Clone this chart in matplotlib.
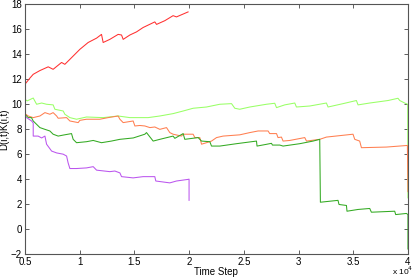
import matplotlib.pyplot as plt
import numpy as np

plt.rcParams['font.family'] = ['Liberation Sans', 'DejaVu Sans']

# time step in units of 1e4
red_x = [0.5, 0.546, 0.576, 0.637, 0.713, 0.758, 0.835, 0.865, 0.911, 1.002, 1.078, 1.155, 1.2, 1.215,
         1.276, 1.352, 1.383, 1.398, 1.459, 1.52, 1.58, 1.687, 1.703, 1.779, 1.854, 1.885, 1.991]
red_y = [11.6, 12.1, 12.4, 12.7, 13.0, 12.8, 13.35, 13.2, 13.6, 14.4, 14.95, 15.3, 15.6, 14.95,
         15.2, 15.6, 15.55, 15.2, 15.55, 15.8, 16.15, 16.6, 16.4, 16.7, 17.1, 17.0, 17.4]

purple_x = [0.5, 0.521, 0.561, 0.576, 0.576, 0.621, 0.653, 0.683, 0.698, 0.744, 0.79, 0.85, 0.881,
            0.895, 0.911, 0.972, 1.063, 1.124, 1.155, 1.276, 1.322, 1.368, 1.383, 1.489, 1.58,
            1.687, 1.696, 1.824, 1.885, 1.991, 2.0, 2.0]
purple_y = [9.0, 8.9, 8.66, 8.5, 7.45, 7.45, 7.3, 7.45, 6.8, 6.25, 6.1, 6.0, 5.85,
            5.3, 4.85, 4.85, 4.9, 5.0, 4.72, 4.6, 4.65, 4.5, 4.2, 4.1, 4.2,
            4.2, 3.85, 3.7, 3.85, 3.98, 4.0, 2.3]

lgreen_x = [0.5, 0.521, 0.576, 0.607, 0.653, 0.698, 0.758, 0.774, 0.85, 0.865, 0.911, 0.972, 1.063,
            1.215, 1.352, 1.459, 1.626, 1.733, 1.854, 1.946, 2.037, 2.159, 2.281, 2.388, 2.418,
            2.463, 2.555, 2.707, 2.783, 2.799, 2.874, 2.966, 2.981, 3.103, 3.255, 3.27, 3.407,
            3.529, 3.544, 3.651, 3.818, 3.909, 3.925, 3.97, 3.998, 4.0]
lgreen_y = [10.4, 10.27, 10.5, 10.0, 10.1, 10.0, 9.95, 9.6, 9.46, 9.2, 8.93, 8.8, 8.98,
            8.93, 9.06, 8.93, 8.93, 9.06, 9.25, 9.46, 9.68, 9.78, 10.0, 10.05, 9.68,
            9.6, 9.78, 10.0, 10.08, 9.73, 9.95, 10.1, 9.78, 9.86, 10.1, 9.78, 10.05,
            10.3, 9.95, 10.1, 10.3, 10.48, 10.3, 10.1, 10.0, 2.5]

orange_x = [0.5, 0.53, 0.576, 0.637, 0.683, 0.728, 0.758, 0.79, 0.804, 0.881, 0.911, 0.987, 1.002,
            1.063, 1.185, 1.261, 1.352, 1.368, 1.398, 1.489, 1.505, 1.55, 1.596, 1.642, 1.687,
            1.733, 1.794, 1.824, 1.854, 1.931, 1.946, 2.037, 2.053, 2.098, 2.114, 2.159, 2.205,
            2.251, 2.311, 2.463, 2.555, 2.631, 2.722, 2.737, 2.799, 2.813, 2.844, 2.859, 2.92,
            3.057, 3.073, 3.194, 3.255, 3.498, 3.514, 3.559, 3.575, 3.803, 3.995, 4.0]
orange_y = [9.25, 9.06, 8.93, 9.06, 9.33, 9.2, 9.33, 9.06, 8.88, 8.93, 8.66, 8.53, 8.71,
            8.8, 8.8, 8.93, 9.06, 8.8, 8.53, 8.66, 8.26, 8.3, 8.26, 8.13, 8.18,
            7.99, 8.13, 7.73, 7.6, 7.45, 7.6, 7.6, 7.33, 7.33, 6.8, 6.92, 7.05,
            7.33, 7.45, 7.55, 7.73, 7.86, 7.86, 7.65, 7.65, 7.33, 7.37, 7.05, 7.1,
            7.33, 7.05, 7.19, 7.37, 7.6, 7.19, 7.05, 6.52, 6.57, 6.7, 3.0]

dgreen_x = [0.5, 0.53, 0.56, 0.576, 0.607, 0.637, 0.683, 0.728, 0.758, 0.804, 0.85, 0.926, 0.941,
            0.972, 1.063, 1.124, 1.2, 1.29, 1.368, 1.49, 1.596, 1.611, 1.672, 1.733, 1.854,
            1.870, 1.946, 1.961, 2.083, 2.114, 2.19, 2.205, 2.281, 2.433, 2.616, 2.621, 2.707,
            2.753, 2.762, 2.829, 2.859, 3.011, 3.133, 3.194, 3.2, 3.361, 3.37, 3.438, 3.443,
            3.544, 3.651, 3.666, 3.879, 3.888, 3.986, 4.0, 4.0]
dgreen_y = [9.2, 8.93, 8.93, 8.66, 8.39, 8.13, 7.99, 7.86, 7.6, 7.45, 7.53, 7.65, 7.19,
            6.92, 7.0, 7.1, 6.92, 7.05, 7.19, 7.3, 7.6, 7.73, 7.05, 7.19, 7.45,
            7.27, 7.65, 7.19, 7.33, 7.05, 7.0, 6.65, 6.65, 6.84, 7.05, 6.65, 6.79,
            6.87, 6.73, 6.73, 6.65, 6.84, 7.05, 7.19, 2.15, 2.3, 1.97, 1.89, 1.43,
            1.57, 1.65, 1.35, 1.43, 1.16, 1.25, 1.16, -1.6]

fig = plt.figure(figsize=(4.15, 2.77), dpi=100)
ax = fig.add_axes([0.060, 0.083, 0.923, 0.901])

ax.plot(red_x, red_y, color='#ff3030', lw=0.75)
ax.plot(lgreen_x, lgreen_y, color='#99ff66', lw=0.75)
ax.plot(orange_x, orange_y, color='#ff7f50', lw=0.75)
ax.plot(dgreen_x, dgreen_y, color='#33aa22', lw=0.75)
ax.plot(purple_x, purple_y, color='#bb55ee', lw=0.75)

ax.set_xlim(0.5, 4)
ax.set_ylim(-2, 18)
ax.set_xticks(np.arange(0.5, 4.01, 0.5))
ax.set_xticklabels(['0.5', '1', '1.5', '2', '2.5', '3', '3.5', '4'])
ax.set_yticks(np.arange(-2, 18.1, 2))
ax.tick_params(direction='in', length=3, width=0.6, labelsize=7, pad=2,
               top=True, right=True, colors='#444444', labelcolor='black')
for s in ax.spines.values():
    s.set_color('#555555')
    s.set_linewidth(0.8)

ax.set_xlabel('Time Step', fontsize=7, labelpad=0)
ax.set_ylabel('D(i,t)K(i,t)', fontsize=7, labelpad=1)
fig.text(0.997, 0.0, r'x 10$^4$', fontsize=6, ha='right', va='bottom')

fig.savefig('out.png', dpi=100)
